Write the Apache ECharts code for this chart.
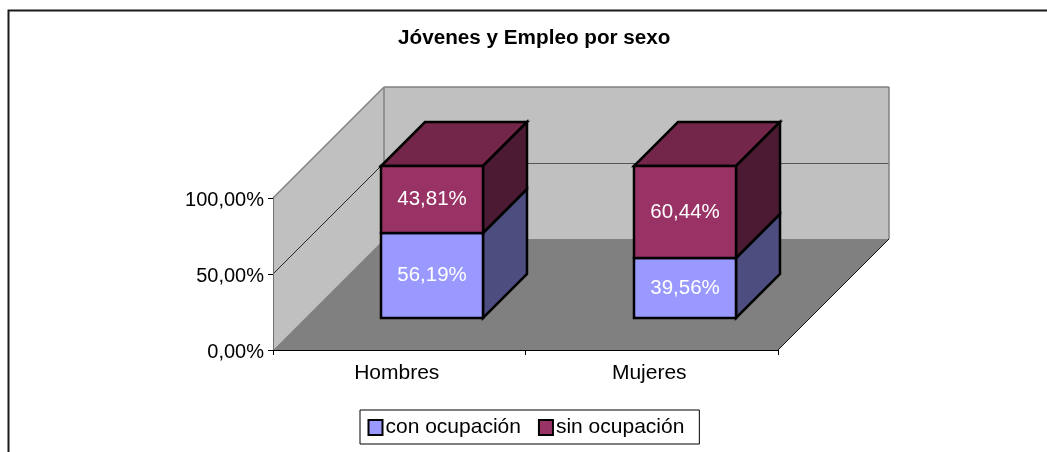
<!DOCTYPE html>
<html>
<head>
<meta charset="utf-8">
<style>html,body{margin:0;padding:0;background:#fff}#c{width:1047px;height:452px}</style>
<script src="https://cdn.jsdelivr.net/npm/echarts@6/dist/echarts.min.js"></script>
</head>
<body>
<div id="c"></div>
<script>
const chartTitle = 'Jóvenes y Empleo por sexo';
const categories = ['Hombres', 'Mujeres'];
const conOcupacion = [56.19, 39.56];
const sinOcupacion = [43.81, 60.44];
const seriesNames = ['con ocupación', 'sin ocupación'];
const yTicks = [0, 50, 100];

const FONT = '"Liberation Sans", Arial, sans-serif';
const WALL_DEPTH = 111, BAR_DEPTH = 44, BAR_SHIFT_X = 33, BAR_SHIFT_Y = 32, BAR_WIDTH = 102;
const pct = v => v.toFixed(2).replace('.', ',') + '%';
const poly = (points, fill, stroke, lineWidth) => ({
  type: 'polygon', shape: { points },
  style: { fill, stroke: stroke || 'none', lineWidth: lineWidth || 0, lineJoin: 'miter' }
});
const line = (a, b, stroke, lineWidth) => ({
  type: 'line', shape: { x1: a[0], y1: a[1], x2: b[0], y2: b[1] },
  style: { stroke, lineWidth }
});

function renderWalls(params, api) {
  const cs = params.coordSys;
  const x0 = cs.x, x1 = cs.x + cs.width;
  const yv = v => api.coord([0, v])[1];
  const d = WALL_DEPTH;
  const y0 = yv(0), yTop = yv(yTicks[yTicks.length - 1]);
  const children = [
    poly([[x0, y0], [x0, yTop], [x0 + d, yTop - d], [x0 + d, y0 - d]], '#c0c0c0'),
    poly([[x0 + d, yTop - d], [x1 + d, yTop - d], [x1 + d, y0 - d], [x0 + d, y0 - d]], '#c0c0c0'),
    poly([[x0, y0], [x1, y0], [x1 + d, y0 - d], [x0 + d, y0 - d]], '#808080')
  ];
  yTicks.slice(1, -1).forEach(t => {
    const y = yv(t);
    children.push(line([x0, y], [x0 + d, y - d], '#000', 0.8));
    children.push(line([x0 + d, y - d + 0.5], [x1 + d, y - d + 0.5], '#555', 1));
  });
  children.push(line([x0, yTop], [x0 + d, yTop - d], '#808080', 1.5));
  children.push(line([x0 + d, yTop - d], [x1 + d, yTop - d], '#808080', 1.5));
  children.push(line([x0 + d, yTop - d], [x0 + d, y0 - d], '#808080', 1.5));
  children.push(line([x1 + d, yTop - d], [x1 + d, y0 - d], '#808080', 1.5));
  children.push(line([x1, y0], [x1 + d, y0 - d], '#111', 1));
  return { type: 'group', children };
}

function barRenderer(front, side, top) {
  return function (params, api) {
    const base = api.value(1), value = api.value(2);
    const c = api.coord([api.value(0), base]);
    const t = api.coord([api.value(0), base + value]);
    const l = Math.round(c[0] - BAR_WIDTH / 2 + BAR_SHIFT_X), r = l + BAR_WIDTH;
    const yb = Math.round(c[1] - BAR_SHIFT_Y), yt = Math.round(t[1] - BAR_SHIFT_Y);
    const d = BAR_DEPTH;
    const children = [];
    if (top) children.push(poly([[l, yt], [r, yt], [r + d, yt - d], [l + d, yt - d]], top, '#000', 2.5));
    children.push(poly([[r, yb], [r, yt], [r + d, yt - d], [r + d, yb - d]], side, '#000', 2.5));
    children.push(poly([[l, yb], [r, yb], [r, yt], [l, yt]], front, '#000', 2.5));
    children.push({
      type: 'text',
      style: {
        x: (l + r) / 2, y: (yb + yt) / 2, text: pct(value),
        fill: '#fff', font: '20.5px ' + FONT, align: 'center', verticalAlign: 'middle'
      }
    });
    return { type: 'group', children };
  };
}

const lowerData = categories.map((_, i) => [i, 0, conOcupacion[i]]);
const upperData = categories.map((_, i) => [i, conOcupacion[i], sinOcupacion[i]]);

const chart = echarts.init(document.getElementById('c'), null, { renderer: 'canvas' });
chart.setOption({
  animation: false,
  backgroundColor: '#fff',
  title: {
    text: chartTitle, left: 398, top: 28, padding: 0,
    textStyle: { fontFamily: FONT, fontSize: 20.7, fontWeight: 'bold', color: '#000' }
  },
  legend: {
    data: seriesNames, left: 360, top: 410, orient: 'horizontal',
    padding: [7, 15, 6, 7.5], itemGap: 17, itemWidth: 14, itemHeight: 15,
    icon: 'rect', backgroundColor: '#fff', borderColor: '#000', borderWidth: 1,
    selectedMode: false,
    textStyle: { fontFamily: FONT, fontSize: 21, color: '#000', padding: [0, 0, 0, -2] }
  },
  grid: { left: 273, top: 198, width: 505, height: 152, containLabel: false },
  xAxis: {
    type: 'category', data: categories, z: 5,
    axisLine: { lineStyle: { color: '#000', width: 1 } },
    axisTick: { show: true, alignWithLabel: false, length: 5, lineStyle: { color: '#000' } },
    axisLabel: { fontFamily: FONT, fontSize: 21, color: '#000', margin: 13, padding: [0, 5, 0, 0] },
    splitLine: { show: false }
  },
  yAxis: {
    type: 'value', min: 0, max: 100, interval: 50, z: 5,
    axisLine: { show: true, lineStyle: { color: '#707070', width: 1 } },
    axisTick: { show: true, length: 5, lineStyle: { color: '#000' } },
    axisLabel: { fontFamily: FONT, fontSize: 20, color: '#000', margin: 9, verticalAlign: 'top', padding: [-8, 0, 0, 0], formatter: pct },
    splitLine: { show: false }
  },
  series: [
    {
      name: 'walls', type: 'custom', z: 1, silent: true, clip: false,
      renderItem: renderWalls, data: [[0, 0, 100]], encode: { x: 0, y: 2 }
    },
    {
      name: seriesNames[0], type: 'custom', z: 2, clip: false,
      itemStyle: { color: '#9999ff', borderColor: '#000', borderWidth: 2 },
      renderItem: barRenderer('#9999ff', '#4d4d80', null),
      data: lowerData, encode: { x: 0, y: [1, 2] }
    },
    {
      name: seriesNames[1], type: 'custom', z: 3, clip: false,
      itemStyle: { color: '#993366', borderColor: '#000', borderWidth: 2 },
      renderItem: barRenderer('#993366', '#4d1a33', '#732649'),
      data: upperData, encode: { x: 0, y: [1, 2] }
    }
  ],
  graphic: [{
    type: 'polyline', z: 10, silent: true,
    shape: { points: [[8.5, 452], [8.5, 10.5], [1047, 10.5]] },
    style: { stroke: '#1a1a1a', lineWidth: 2, fill: 'none' }
  }]
});
</script>
</body>
</html>
